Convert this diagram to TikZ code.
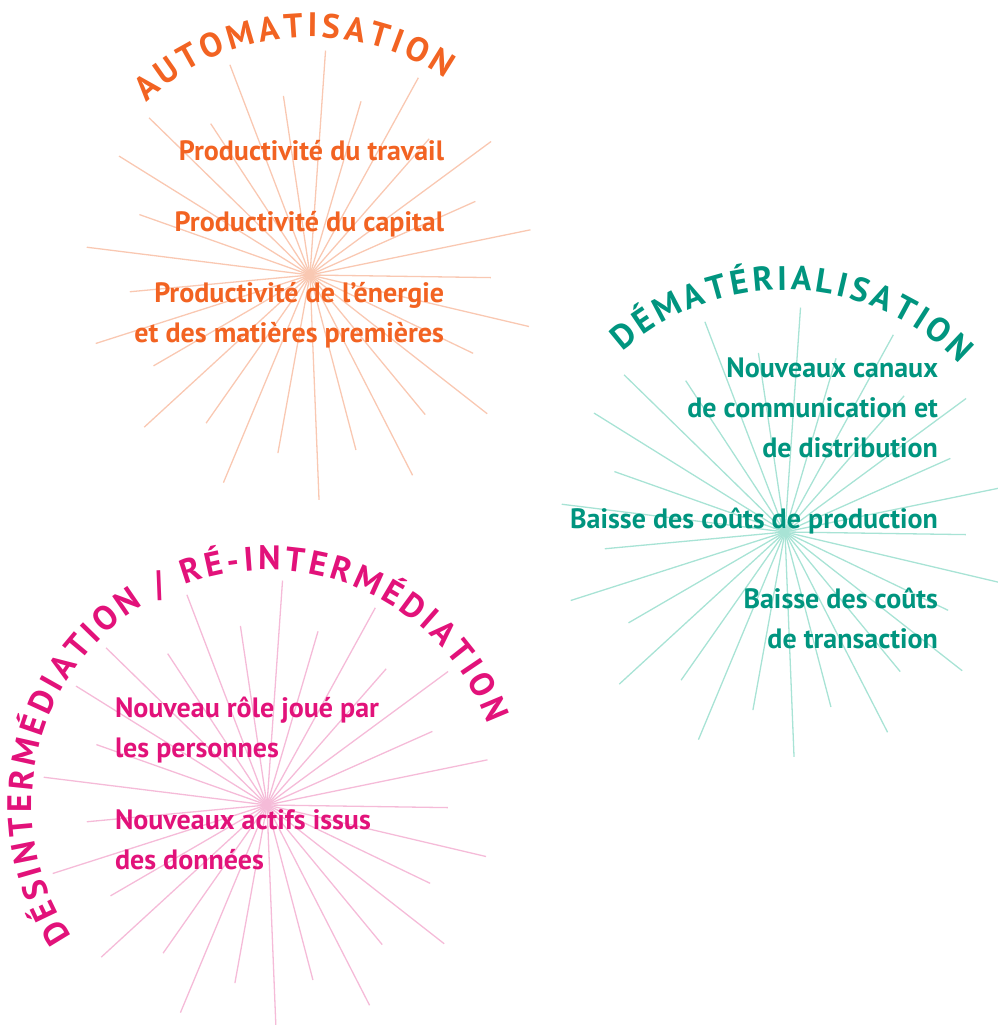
\documentclass[tikz,border=0pt]{standalone}
\usepackage{fontspec}
\setmainfont{PT Sans}
\usetikzlibrary{decorations.text}

\definecolor{autoorange}{HTML}{F26322}
\definecolor{autoray}{HTML}{F9C8B2}
\definecolor{dematteal}{HTML}{00957F}
\definecolor{dematray}{HTML}{A8E3D5}
\definecolor{intermpink}{HTML}{E2127A}
\definecolor{intermray}{HTML}{F5BBD8}

\newcommand{\MyTitleFont}{\fontsize{34}{34}\selectfont\bfseries}

% 29 rays, long and short in turn
\newcommand{\StarRays}[2]{%
  \foreach \k in {0,...,28}{
    \pgfmathsetmacro{\ang}{-87.7+12.41*\k}
    \pgfmathsetmacro{\len}{(\k<19) ? (mod(\k,2)==0 ? 225 : 181) : (mod(\k,2)==1 ? 225 : 181)}
    \draw[MyRay, #2] (#1) -- ++(\ang:\len);
  }}

\begin{document}
\begin{tikzpicture}[
       x=1pt, y=1pt,
MyRay/.style={line width=1.3pt},
MyText/.style={inner sep=0pt, outer sep=0pt, font=\fontsize{28}{40}\selectfont\bfseries},
  ]
\useasboundingbox (0,0) rectangle (998,1025);

\coordinate (auto) at (310,750);
\coordinate (demat) at (785,493);
\coordinate (interm) at (267,220);

\StarRays{auto}{autoray}
\StarRays{demat}{dematray}
\StarRays{interm}{intermray}

\path[decorate, decoration={text along path, text align=fit to path,
  text={|\MyTitleFont\color{autoorange}|AUTOMATISATION}}]
  (auto) ++(133.5:238) arc[start angle=133.5, end angle=55.5, radius=238];
\path[decorate, decoration={text along path, text align=fit to path,
  text={|\MyTitleFont\color{dematteal}|DÉMATÉRIALISATION}}]
  (demat) ++(132:242) arc[start angle=132, end angle=44, radius=242];
\path[decorate, decoration={text along path, text align=fit to path,
  text={|\MyTitleFont\color{intermpink}|DÉSINTERMÉDIATION / RÉ-INTERMÉDIATION}}]
  (interm) ++(214:235) arc[start angle=214, end angle=20, radius=235];

\node[MyText, text=autoorange, align=right, anchor=base east] (travail) at (444,864) {Productivité du travail};
\node[MyText, text=autoorange, align=right, anchor=base east] (capital) at (444,793) {Productivité du capital};
\node[MyText, text=autoorange, align=right, anchor=base east] (energie) at (444,682) {Productivité de l’énergie\\et des matières premières};

\node[MyText, text=dematteal, align=right, anchor=base east] (canaux) at (938,567) {Nouveaux canaux\\de communication et\\de distribution};
\node[MyText, text=dematteal, align=right, anchor=base east] (production) at (938,496) {Baisse des coûts de production};
\node[MyText, text=dematteal, align=right, anchor=base east] (transaction) at (938,376) {Baisse des coûts\\de transaction};

\node[MyText, text=intermpink, align=left, anchor=base west] (role) at (115,267) {Nouveau rôle joué par\\les personnes};
\node[MyText, text=intermpink, align=left, anchor=base west] (actifs) at (115,155) {Nouveaux actifs issus\\des données};
\end{tikzpicture}
\end{document}
